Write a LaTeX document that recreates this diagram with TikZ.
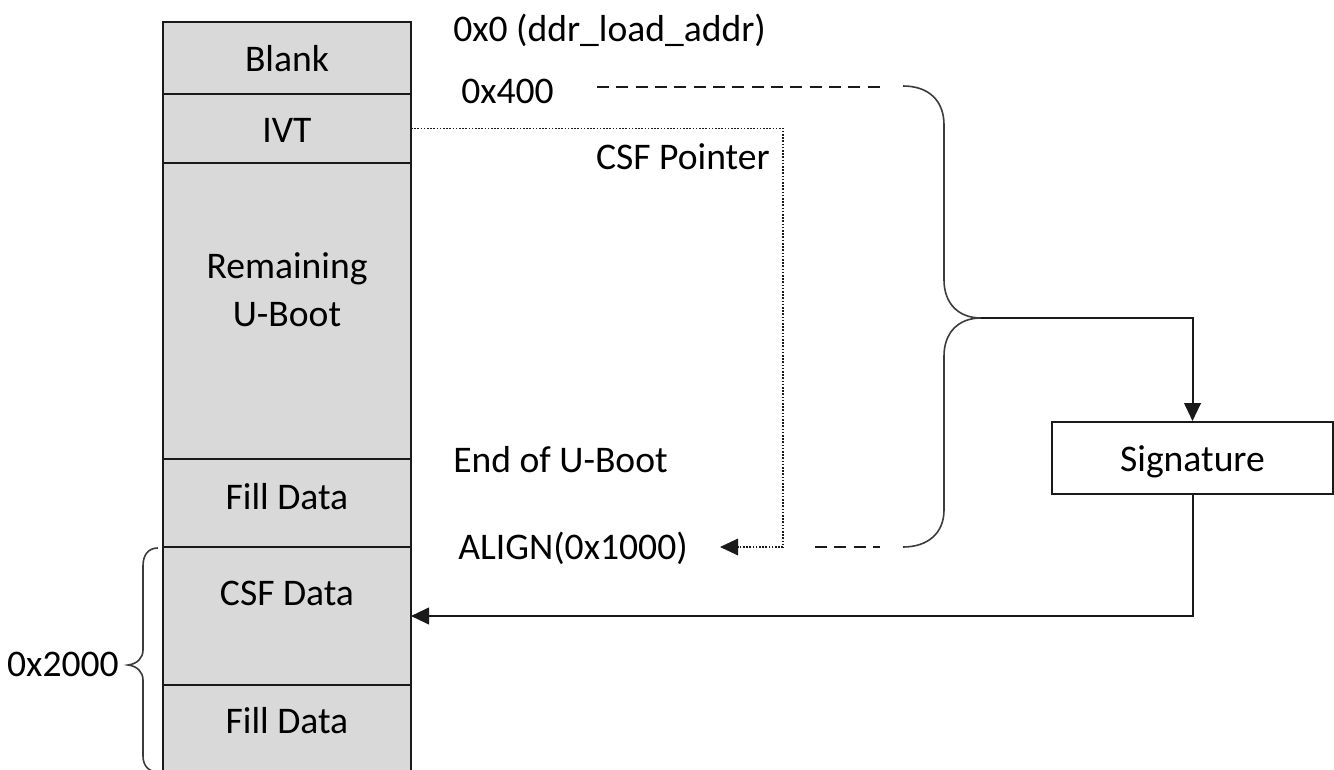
\documentclass[tikz,border=0pt]{standalone}
\usepackage{fontspec}
\setmainfont{Carlito}
\usetikzlibrary{arrows.meta}
\definecolor{memgray}{HTML}{D9D9D9}
\definecolor{ink}{HTML}{1A1A1A}
\begin{document}
\begin{tikzpicture}[x=0.75pt,y=-0.75pt,
  memrow/.style={draw=ink, line width=1.5pt, fill=memgray, minimum width=186pt, inner sep=0pt, outer sep=0pt},
  lbl/.style={font=\fontsize{28.2}{34}\selectfont, inner sep=0pt, anchor=base, text=black},
  lblw/.style={lbl, anchor=base west},
  lble/.style={lbl, anchor=base east},
  conn/.style={draw=ink, line width=1.5pt},
  arr/.style={conn, -{Triangle[length=13.5pt,width=12.5pt]}},
  dotline/.style={draw=ink, line width=0.9pt, dash pattern=on 1.2pt off 1.2pt},
  dotarr/.style={dotline, -{Triangle[length=13.5pt,width=12.5pt]}},
  dashline/.style={draw=ink, line width=1.8pt, dash pattern=on 9pt off 5.5pt},
  bracel/.style={draw=ink!85, line width=1.2pt}
]
\useasboundingbox (0,0) rectangle (1334,770);
\clip (0,0) rectangle (1334,770);

% memory column
\node[memrow, minimum height=54pt] (blank) at (287,58) {};
\node[memrow, minimum height=51.75pt] (ivt) at (287,128.5) {};
\node[memrow, minimum height=222pt] (remain) at (287,311) {};
\node[memrow, minimum height=66pt] (fill1) at (287,503) {};
\node[memrow, minimum height=103.5pt] (csf) at (287,616) {};
\node[memrow, minimum height=90pt] (fill2) at (287,745) {};

\node[lbl] (tblank) at (287,72) {Blank};
\node[lbl] (tivt) at (287,143) {IVT};
\node[lbl] (tremain1) at (287,278) {Remaining};
\node[lbl] (tremain2) at (287,326) {U-Boot};
\node[lbl] (tfill1) at (287,509) {Fill Data};
\node[lbl] (tcsf) at (287,605) {CSF Data};
\node[lbl] (tfill2) at (287,733) {Fill Data};

% address labels
\node[lblw] (a0) at (453,42) {0x0 (ddr\_load\_addr)};
\node[lblw] (a400) at (461,104) {0x400};
\node[lble] (csfp) at (770,170) {CSF Pointer};
\node[lblw] (endub) at (453,472) {End of U-Boot};
\node[lblw] (align) at (458,559) {ALIGN(0x1000)};
\node[lble] (sz) at (119,676) {0x2000};

% signature
\node[draw=ink, line width=1.5pt, fill=white, minimum width=210.75pt, minimum height=54pt, inner sep=0pt] (sig) at (1192.5,458) {};
\node[lbl] (tsig) at (1192.5,471) {Signature};

% dashed markers
\coordinate (d1a) at (597,87);
\coordinate (d1b) at (880,87);
\coordinate (d2a) at (815,547);
\coordinate (d2b) at (880,547);
\draw[dashline] (d1a) -- (d1b);
\draw[dashline] (d2a) -- (d2b);

% big brace
\coordinate (btip) at (981,318);
\draw[bracel] (903,86) .. controls (928,86) and (944,100) .. (944,125)
  -- (944,280) .. controls (944,303) and (958,318) .. (btip);
\draw[bracel] (btip) .. controls (958,318) and (944,333) .. (944,356)
  -- (944,510) .. controls (944,533) and (928,547) .. (903,547);

% small brace (0x2000)
\draw[bracel] (158,548) .. controls (149,548) and (143,554) .. (143,566)
  -- (143,650) .. controls (143,658) and (137,664) .. (128,665)
  .. controls (137,666) and (143,672) .. (143,680)
  -- (143,756) .. controls (143,766) and (149,772) .. (158,772);

% connectors
\draw[arr] (btip) -| (sig.north);
\draw[arr] (sig.south) |- (csf.east);

\coordinate (dc) at (783,547);
\coordinate (dend) at (720,547);
\draw[dotline] (ivt.east) -| (dc);
\draw[dotarr] (dc) -- (dend);
\end{tikzpicture}
\end{document}
